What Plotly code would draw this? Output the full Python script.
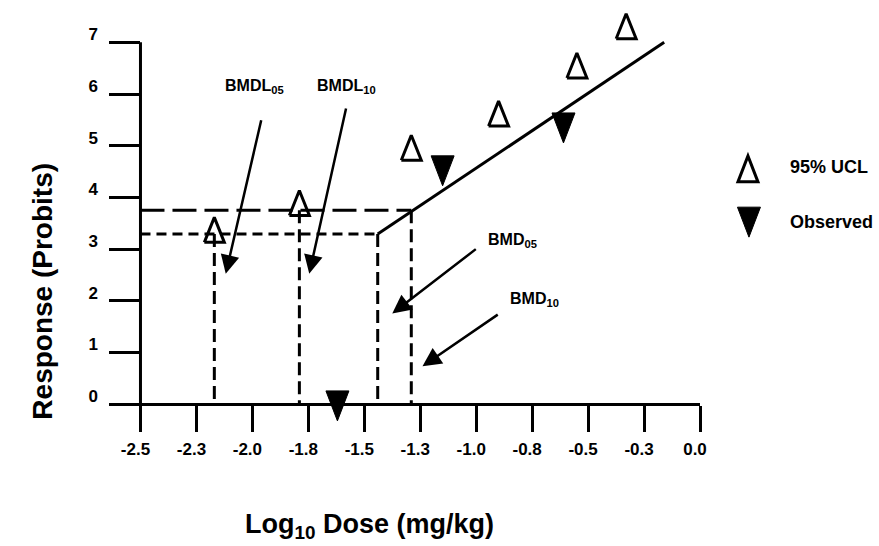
import plotly.graph_objects as go

# ---- data: log10 dose (mg/kg) vs response (probits) ----
ucl_x = [-2.17, -1.79, -1.29, -0.90, -0.55, -0.33]
ucl_y = [3.29, 3.81, 4.88, 5.54, 6.47, 7.23]
obs_x = [-1.62, -1.15, -0.61]
obs_y = [0.06, 4.61, 5.44]
fit_x = [-1.44, -0.16]
fit_y = [3.29, 7.00]
bmr_levels = [3.29, 3.75]   # probit response at 5% and 10% extra risk
bmd = [-1.44, -1.29]         # BMD05, BMD10
bmdl = [-2.17, -1.79]        # BMDL05, BMDL10

x_ticks = [-2.5, -2.25, -2.0, -1.75, -1.5, -1.25, -1.0, -0.75, -0.5, -0.25, 0.0]
x_ticktext = ["-2.5", "-2.3", "-2.0", "-1.8", "-1.5", "-1.3",
              "-1.0", "-0.8", "-0.5", "-0.3", "0.0"]
y_ticks = [0, 1, 2, 3, 4, 5, 6, 7]

# ---- geometry of the figure ----
W, H = 879, 546
X_RANGE = [-2.52, 0.0]
Y_RANGE = [-0.6, 7.8]
PX_X = 224.0          # pixels per x unit
PX_Y = 51.71          # pixels per y unit
plot_right = 700.0
plot_left = plot_right - (X_RANGE[1] - X_RANGE[0]) * PX_X
y_zero_px = 404.0
plot_top = y_zero_px - Y_RANGE[1] * PX_Y
plot_bottom = y_zero_px - Y_RANGE[0] * PX_Y

FONT = "Liberation Sans, Arial, sans-serif"


def px2paper(px, py):
    return ((px - plot_left) / (plot_right - plot_left),
            (plot_bottom - py) / (plot_bottom - plot_top))


def triangles(xs, ys, up, w, h):
    """Closed triangle outlines around each point (point = centroid)."""
    hw = w / 2 / PX_X
    a = 2 * h / 3 / PX_Y
    b = h / 3 / PX_Y
    tx, ty = [], []
    for x, y in zip(xs, ys):
        if up:
            tx += [x - hw, x + hw, x, x - hw, None]
            ty += [y - b, y - b, y + a, y - b, None]
        else:
            tx += [x - hw, x + hw, x, x - hw, None]
            ty += [y + b, y + b, y - a, y + b, None]
    return tx, ty


def paper_triangle(cx, cy, up, w, h):
    """SVG path of a triangle in paper coordinates, centred (centroid) at pixel cx, cy."""
    if up:
        pts = [(cx - w / 2, cy + h / 3), (cx + w / 2, cy + h / 3), (cx, cy - 2 * h / 3)]
    else:
        pts = [(cx - w / 2, cy - h / 3), (cx + w / 2, cy - h / 3), (cx, cy + 2 * h / 3)]
    pp = [px2paper(*p) for p in pts]
    return "M{},{} L{},{} L{},{} Z".format(pp[0][0], pp[0][1], pp[1][0], pp[1][1], pp[2][0], pp[2][1])


fig = go.Figure()

# reference lines at the benchmark response levels
fig.add_trace(go.Scatter(x=[-2.5, bmd[1]], y=[bmr_levels[1]] * 2, mode="lines",
                         line=dict(color="black", width=3, dash="24px,8px"), hoverinfo="skip"))
fig.add_trace(go.Scatter(x=[-2.5, bmd[0]], y=[bmr_levels[0]] * 2, mode="lines",
                         line=dict(color="black", width=3, dash="10px,6px"), hoverinfo="skip"))
for xv, yv in [(bmd[0], bmr_levels[0]), (bmd[1], bmr_levels[1]),
               (bmdl[0], bmr_levels[0]), (bmdl[1], bmr_levels[1])]:
    fig.add_trace(go.Scatter(x=[xv, xv], y=[yv, 0], mode="lines",
                             line=dict(color="black", width=3, dash="13px,6px"), hoverinfo="skip"))

# fitted probit line
fig.add_trace(go.Scatter(x=fit_x, y=fit_y, mode="lines",
                         line=dict(color="black", width=3), name="Fit"))

# 95% UCL (open up-triangles)
ux, uy = triangles(ucl_x, ucl_y, True, 20, 25)
fig.add_trace(go.Scatter(x=ux, y=uy, mode="lines", name="95% UCL",
                         line=dict(color="black", width=3)))

# observed (filled down-triangles)
ox, oy = triangles(obs_x, obs_y, False, 23, 30)
fig.add_trace(go.Scatter(x=ox, y=oy, mode="lines", fill="toself", name="Observed",
                         fillcolor="black", line=dict(color="black", width=1)))

shapes = [
    # left axis line from 0 to 7
    dict(type="line", xref="x", yref="y", x0=-2.5, x1=-2.5, y0=0, y1=7,
         line=dict(color="black", width=3)),
    # legend symbols
    dict(type="path", xref="paper", yref="paper", path=paper_triangle(748, 173, True, 20, 26),
         line=dict(color="black", width=3)),
    dict(type="path", xref="paper", yref="paper", path=paper_triangle(749, 217, False, 23, 30),
         line=dict(color="black", width=1), fillcolor="black"),
]

annotations = []
bold = dict(family=FONT, size=16, color="black", weight="bold")

# labels
for text, x, y in [("BMDL<sub>05</sub>", -1.99, 6.15),
                   ("BMDL<sub>10</sub>", -1.58, 6.15),
                   ("BMD<sub>05</sub>", -0.84, 3.17),
                   ("BMD<sub>10</sub>", -0.74, 2.02)]:
    annotations.append(dict(x=x, y=y, xref="x", yref="y", text=text, showarrow=False,
                            font=bold, xanchor="center", yanchor="middle"))

# arrows: (tip x, tip y, tail x, tail y)
for tx, ty, sx, sy in [(-2.119, 2.52, -1.959, 5.52),
                       (-1.746, 2.52, -1.58, 5.75),
                       (-1.375, 1.75, -0.995, 3.02),
                       (-1.24, 0.73, -0.897, 1.75)]:
    annotations.append(dict(x=tx, y=ty, xref="x", yref="y", ax=sx, ay=sy,
                            axref="x", ayref="y", text="", showarrow=True,
                            arrowhead=2, arrowsize=1.5, arrowwidth=2.5,
                            arrowcolor="black", standoff=0, startstandoff=0))

# legend text
for text, py in [("95% UCL", 167), ("Observed", 222)]:
    lx, ly = px2paper(788, py)
    annotations.append(dict(x=lx, y=ly, xref="paper", yref="paper", text=text,
                            showarrow=False, xanchor="left", yanchor="middle",
                            font=dict(family=FONT, size=18, color="black", weight="bold")))

# axis titles
tx, ty = px2paper(369, 526)
annotations.append(dict(x=tx, y=ty, xref="paper", yref="paper",
                        text="Log<sub>10</sub> Dose (mg/kg)", showarrow=False,
                        xanchor="center", yanchor="middle",
                        font=dict(family=FONT, size=27, color="black", weight="bold")))
tx, ty = px2paper(42, 291)
annotations.append(dict(x=tx, y=ty, xref="paper", yref="paper",
                        text="Response (Probits)", showarrow=False, textangle=-90,
                        xanchor="center", yanchor="middle",
                        font=dict(family=FONT, size=28, color="black", weight="bold")))

tickfont = dict(family=FONT, size=17, color="black", weight="bold")

fig.update_layout(
    width=W, height=H,
    margin=dict(l=plot_left, r=W - plot_right, t=plot_top, b=H - plot_bottom, pad=0),
    paper_bgcolor="white", plot_bgcolor="white",
    showlegend=False,
    font=dict(family=FONT, color="black"),
    xaxis=dict(range=X_RANGE, anchor="free",
               position=(0 - Y_RANGE[0]) / (Y_RANGE[1] - Y_RANGE[0]),
               tickmode="array", tickvals=x_ticks, ticktext=x_ticktext,
               ticks="outside", ticklen=26, tickwidth=3, tickcolor="black",
               showline=True, linewidth=3, linecolor="black",
               showgrid=False, zeroline=False, automargin=False,
               tickfont=tickfont, ticklabelshift=-5, ticklabelstandoff=3),
    yaxis=dict(range=Y_RANGE, anchor="free",
               position=(-2.5 - X_RANGE[0]) / (X_RANGE[1] - X_RANGE[0]),
               tickmode="array", tickvals=y_ticks,
               ticks="outside", ticklen=31, tickwidth=3, tickcolor="black",
               showline=False, showgrid=False, zeroline=False, automargin=False,
               tickfont=tickfont, ticklabelshift=-8, ticklabelstandoff=8),
    shapes=shapes,
    annotations=annotations,
)

fig.write_html("out.html")
